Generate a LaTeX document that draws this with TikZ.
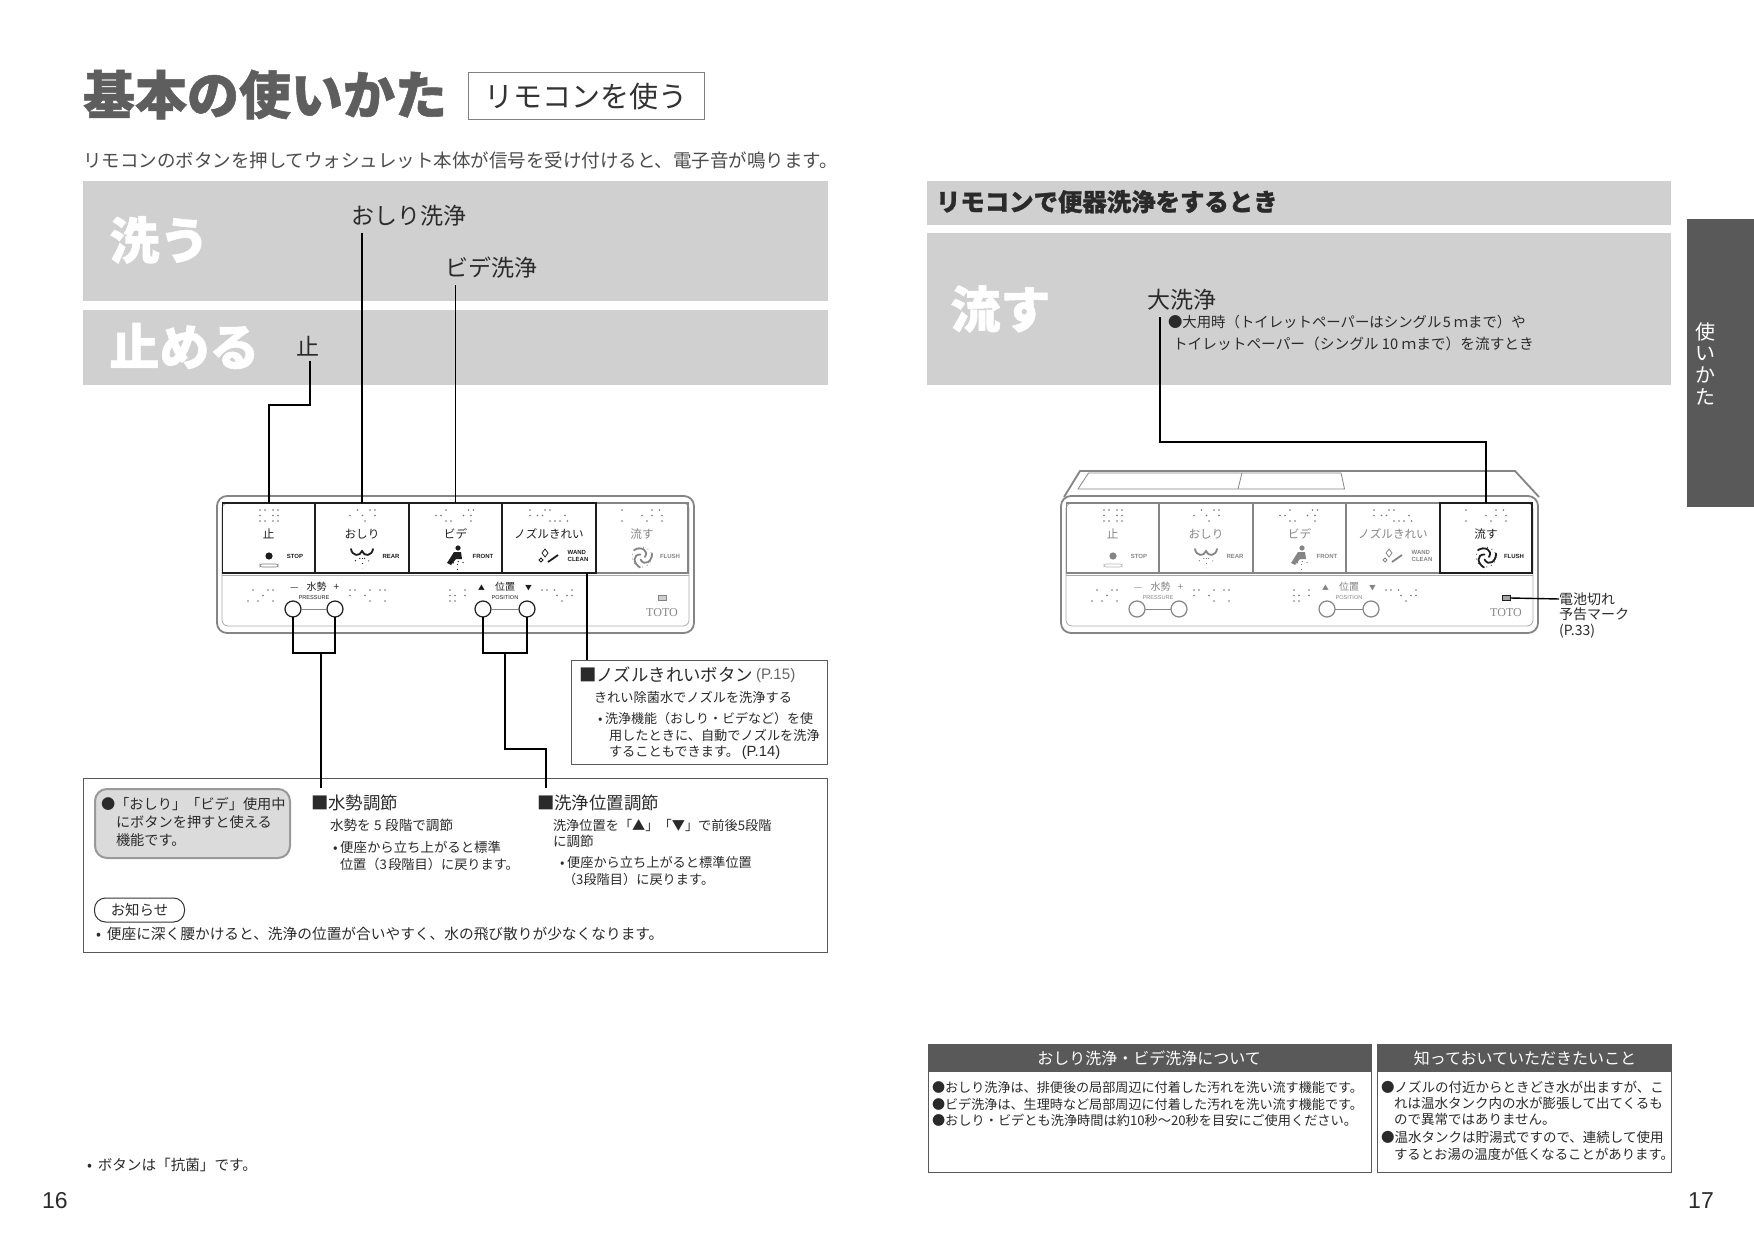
\documentclass[tikz,border=0pt]{standalone}
\usepackage{fontspec}
\setmainfont{Noto Sans CJK JP}[BoldFeatures={FakeBold=1}]
\newfontfamily\labelfont{Liberation Sans}
\newfontfamily\brandfont{Liberation Serif}
\definecolor{band-gray}{HTML}{D0D0D0}
\definecolor{head-gray}{HTML}{595959}
\definecolor{title-gray}{HTML}{5E5E5E}
\definecolor{body-ink}{HTML}{2A2A2A}
\definecolor{panel-on}{HTML}{1E1E1E}
\definecolor{panel-off}{HTML}{858585}
\tikzset{
    page-text/.style = {font=\fontsize{#1}{#1}\selectfont, text=body-ink, inner sep=0pt, outer sep=0pt, anchor=west, text height=#1*0.88pt, text depth=#1*0.06pt},
    band-title/.style = {font=\fontsize{25}{25}\selectfont\bfseries, text=white, inner sep=0pt, anchor=west},
    link-line/.style = {draw=black, line width=0.9pt},
    frame-line/.style = {draw=black!65, line width=0.45pt},
    panel-button/.style = {rectangle, anchor=north west, inner sep=0pt, outer sep=0pt, line width=0.6pt, minimum height=35pt},
    button-title/.style = {font=\fontsize{5.8}{5.8}\selectfont, inner sep=0pt},
    button-tag/.style = {font=\labelfont\fontsize{3}{3.6}\selectfont\bfseries, inner sep=0pt, align=left},
    row-title/.style = {font=\fontsize{5}{5}\selectfont, inner sep=0pt},
    row-tag/.style = {font=\labelfont\fontsize{2.8}{3}\selectfont, inner sep=0pt},
    knob/.style = {circle, fill=white, inner sep=0pt, outer sep=0pt, minimum size=8pt, line width=0.6pt},
    braille-dot/.style = {fill=black!55},
}
\newcommand{\tinymark}[1]{{\fontsize{3.4}{3.4}\selectfont #1}}
% one run of braille dots, column pitch 5px, row pitch 5.5px
\newcommand{\brailledots}[3]{\foreach \c/\r in {#3} \fill[braille-dot] (#1+\c*5,#2+\r*5.5) circle (0.9);}
% the remote's control panel: prefix, x offset, ink of four buttons and lower row, ink of flush button
\newcommand{\remotepanel}[4]{%
\begin{scope}[shift={(#2,0)}]
\draw[panel-off, line width=0.9pt, fill=white, rounded corners=5pt] (217,496) rectangle (694,633);
\draw[panel-off!70, line width=0.4pt, rounded corners=3pt] (222,503) rectangle (689,626);
\draw[panel-off!70, line width=0.4pt] (222,575) -- (689,575);
\node[panel-button, draw=#4, minimum width=46pt] (#1-flush) at (596,503) {};
\node[button-title, text=#4] (#1-flush-title) at (642,534) {流す};
\foreach \name/\bx/\bw/\title in {stop/222.5/92.5/止, rear/315/94/おしり, front/409/93/ビデ, nozzle/502/94/ノズルきれい}{
    \node[panel-button, draw=#3, minimum width=\bw*0.5pt] (#1-\name) at (\bx,503) {};
    \node[button-title, text=#3] (#1-\name-title) at (\bx+\bw/2,534) {\title};
}
% braille
\brailledots{260}{510}{0/0,1/0,2.6/0,3.6/0,0/1,2.6/1,3.6/1,0/2,1/2,2.6/2,3.6/2}
\brailledots{350}{510}{0/1,1.5/0,2.5/1,3/2,4/0,5/1,5/0}
\brailledots{436}{510}{0/1,1/1,2/0,2/2,3/2,5.5/1,6.5/0,7/1,7/2,7.5/0}
\brailledots{530}{510}{0/0,0/1,1.5/1,2.5/1,3/0,4/0,4/2,5/2,6/2,7/1,7.5/2}
\brailledots{622}{510}{0/0,0/2,4/1,5/2,6/0,6/1,7.5/0,8/1,8/2}
\brailledots{248}{590}{1/0,2/2,0/2,4/0,5/0,3/1,5/2}
\brailledots{350}{590}{0/0,1/0,0/1,3/1,4/0,4/2,6/0,7/0,7/2}
\brailledots{450}{590}{0/0,0/1,1/1,1/2,0/2,3/0,3/1}
\brailledots{542}{590}{0/0,1/0,2.5/0,3/1,4/2,5/1,6/1,6/0}
% icons
\fill[#3] (269,556) circle (3.6);
\draw[#3!60!white, line width=0.3pt, rounded corners=1pt] (260,564) rectangle (278,567);
\draw[#3, line width=0.9pt, line cap=round] (351,549) .. controls (352,556) and (360,557) .. (362,551) .. controls (364,557) and (372,556) .. (373,549);
\draw[#3, line width=0.5pt, dotted] (355,561) .. controls (358,557) and (366,557) .. (369,561);
\draw[#3, line width=0.5pt, dotted] (362,558) -- (362,568);
\fill[#3] (458,548) circle (2.6);
\fill[#3] (454,552) -- (461,552) -- (462,559) -- (456,559) -- (451,565) -- (447,563) -- cycle;
\draw[#3, line width=0.5pt, dotted] (453,563) .. controls (456,561) and (461,561) .. (464,563);
\draw[#3, line width=0.5pt, dotted] (457,564) -- (457,570);
\draw[#3, line width=0.9pt] (548,562) -- (558,555);
\draw[#3, line width=0.4pt] (545,549) -- (548,553) -- (545,557) -- (542,553) -- cycle;
\draw[#3, line width=0.4pt] (541,558) -- (543,560) -- (541,562) -- (539,560) -- cycle;
\foreach \a in {0,120,240}
    \draw[#4, line width=0.9pt, line cap=round, rotate around={\a:(642,557)}] (645,557) .. controls (649,550) and (641,546) .. (634,550);
\draw[#4, line width=0.4pt, dotted] (642,557) circle (10);
% small labels
\node[button-tag, text=#3] (#1-stop-tag) at (295,556) {STOP};
\node[button-tag, text=#3] (#1-rear-tag) at (391,556) {REAR};
\node[button-tag, text=#3] (#1-front-tag) at (483,556) {FRONT};
\node[button-tag, text=#3] (#1-nozzle-tag) at (578,556) {WAND\\CLEAN};
\node[button-tag, text=#4] (#1-flush-tag) at (670,556) {FLUSH};
% lower row
\node[row-title, text=#3] (#1-pressure-title) at (314,587) {$-$\hspace{0.7em}水勢\hspace{0.7em}+};
\node[row-tag, text=#3] (#1-pressure-tag) at (314,598) {PRESSURE};
\node[row-title, text=#3] (#1-position-title) at (505,587) {\tinymark{▲}\hspace{1em}位置\hspace{1em}\tinymark{▼}};
\node[row-tag, text=#3] (#1-position-tag) at (505,598) {POSITION};
\node[knob, draw=#3] (#1-minus) at (293,609) {};
\node[knob, draw=#3] (#1-plus) at (335,609) {};
\node[knob, draw=#3] (#1-front-knob) at (483,609) {};
\node[knob, draw=#3] (#1-back-knob) at (527,609) {};
\draw[panel-off, line width=0.4pt] (#1-minus) -- (#1-plus);
\draw[panel-off, line width=0.4pt] (#1-front-knob) -- (#1-back-knob);
\node[rectangle, draw=#4, fill=#4!40!white, line width=0.4pt, inner sep=0pt, minimum width=4pt, minimum height=2.4pt] (#1-battery) at (662,598) {};
\node[font=\brandfont\fontsize{6}{6}\selectfont, text=panel-off, inner sep=0pt] (#1-brand) at (662,613) {TOTO};
\end{scope}
}

\begin{document}
\begin{tikzpicture}[x=0.5pt, y=-0.5pt]
\useasboundingbox (0,0) rectangle (1754,1240);
\fill[white] (0,0) rectangle (1754,1240);

% left page
\node[page-text=26, font=\fontsize{26}{26}\selectfont\bfseries, text=title-gray] (page-title) at (83,93) {基本の使いかた};
\node[page-text=14.5, text=black!80, draw=black!50, line width=0.5pt, anchor=center, minimum width=118pt, minimum height=23.5pt, text height=12.3pt, text depth=0.9pt] (title-tag) at (586,96.5) {リモコンを使う};
\node[page-text=9.25, text=black!70] (lead-line) at (83,160) {リモコンのボタンを押してウォシュレット本体が信号を受け付けると、電子音が鳴ります。};

\fill[band-gray] (83,181) rectangle (828,301);
\fill[band-gray] (83,310) rectangle (828,385);
\node[band-title] (wash-title) at (109,240) {洗う};
\node[band-title] (stop-title) at (109,346) {止める};
\node[page-text=11.5] (rear-label) at (351,215) {おしり洗浄};
\node[page-text=11.5] (front-label) at (445,267) {ビデ洗浄};
\node[page-text=11.5] (stop-label) at (296,346) {止};

\remotepanel{left}{0}{panel-on}{panel-off}

\coordinate (stop-bend) at (310,405);
\draw[link-line, shorten <=2pt] (stop-label.south -| stop-bend) -- (stop-bend) -| (left-stop.north);
\draw[link-line, shorten <=3.5pt] (rear-label.south -| left-rear.north) -- (left-rear.north);
\draw[link-line, shorten <=3.5pt] (front-label.south -| left-front.north) -- (left-front.north);

% adjust buttons
\coordinate (pressure-joint) at (321,653);
\coordinate (pressure-end) at (321,788);
\draw[link-line] (left-minus.south) |- (pressure-joint);
\draw[link-line] (left-plus.south) |- (pressure-joint);
\coordinate (position-joint) at (505,653);
\coordinate (position-bend) at (546,749);
\coordinate (position-end) at (546,788);
\draw[link-line] (left-front-knob.south) |- (position-joint);
\draw[link-line] (left-back-knob.south) |- (position-joint);

% nozzle note
\node[draw=black!65, line width=0.45pt, fill=white, rectangle, anchor=north west, inner sep=0pt, minimum width=128pt, minimum height=52pt] (nozzle-box) at (571,660) {};
\coordinate (nozzle-start) at (587,573);
\draw[link-line] (nozzle-start) -- (nozzle-start |- nozzle-box.north);
\node[page-text=8.7] (nozzle-head) at (579,674) {■ノズルきれいボタン};
\node[page-text=6.5, font=\labelfont\fontsize{7.6}{7.6}\selectfont, text=black!60] (nozzle-page) at (nozzle-head.east) [anchor=west, xshift=1.5pt] {(P.15)};
\node[page-text=6.6] (nozzle-a) at (594,697) {きれい除菌水でノズルを洗浄する};
\node[page-text=6.5] (nozzle-b) at (598,718) {•\hspace{0.2em}洗浄機能（おしり・ビデなど）を使};
\node[page-text=6.6] (nozzle-c) at (609,735) {用したときに、自動でノズルを洗浄};
\node[page-text=6.6] (nozzle-d) at (609,751) {することもできます。\hspace{0.2em}{\labelfont\fontsize{7.4}{7.4}\selectfont (P.14)}};

% lower frame
\draw[frame-line] (83,778) rectangle (827,952);
\draw[link-line] (pressure-joint) -- (pressure-end);
\draw[link-line] (position-joint) |- (position-bend) -- (position-end);
\node[draw=black!40, line width=1pt, fill=black!14, rounded corners=6pt, rectangle, anchor=north west, inner sep=0pt, minimum width=97.5pt, minimum height=34.5pt] (hint-box) at (94,788) {};
\node[page-text=7.1] (hint-a) at (101,804) {●「おしり」「ビデ」使用中};
\node[page-text=7.1] (hint-b) at (116,822) {にボタンを押すと使える};
\node[page-text=7.1] (hint-c) at (116,840) {機能です。};
\node[page-text=8.7] (pressure-head) at (311,802) {■水勢調節};
\node[page-text=6.8] (pressure-a) at (330,825) {水勢を\hspace{0.25em}5\hspace{0.25em}段階で調節};
\node[page-text=6.7] (pressure-b) at (333,847) {•\hspace{0.2em}便座から立ち上がると標準};
\node[page-text=6.6] (pressure-c) at (340,864) {位置（3\hspace{0.1em}段階目）に戻ります。};
\node[page-text=8.7] (position-head) at (537,802) {■洗浄位置調節};
\node[page-text=6.6] (position-a) at (553,825) {洗浄位置を「▲」「▼」で前後5段階};
\node[page-text=6.8] (position-b) at (553,841) {に調節};
\node[page-text=6.6] (position-c) at (560,862) {•\hspace{0.2em}便座から立ち上がると標準位置};
\node[page-text=6.6] (position-d) at (563,879) {（3段階目）に戻ります。};
\node[page-text=7.2, draw=black!80, line width=0.5pt, anchor=center, rounded corners=5.5pt, minimum width=45pt, minimum height=12pt] (notice-tag) at (139.5,910) {お知らせ};
\node[page-text=7.35] (notice-line) at (96,933) {•\hspace{0.4em}便座に深く腰かけると、洗浄の位置が合いやすく、水の飛び散りが少なくなります。};
\node[page-text=7.3] (footnote) at (87,1165) {•\hspace{0.4em}ボタンは「抗菌」です。};
\node[font=\labelfont\fontsize{11.5}{11.5}\selectfont, text=body-ink, inner sep=0pt] (page-left) at (55,1201) {16};

% right page
\fill[band-gray] (927,181) rectangle (1671,225);
\fill[band-gray] (927,233) rectangle (1671,385);
\node[page-text=12.2, font=\fontsize{12.2}{12.2}\selectfont\bfseries] (flush-head) at (936,201) {リモコンで便器洗浄をするとき};
\node[band-title] (flush-title) at (950,309) {流す};
\node[page-text=11.5] (flush-label) at (1147,299) {大洗浄};
\node[page-text=7.2] (flush-a) at (1168,322) {●大用時（トイレットペーパーはシングル\hspace{0.1em}5\hspace{0.2em}ｍまで）や};
\node[page-text=7.35] (flush-b) at (1173,343) {トイレットペーパー（シングル 10 ｍまで）を流すとき};

\draw[panel-off, line width=0.9pt] (1064,497) -- (1080,471) -- (1515,471) -- (1539,497);
\draw[panel-off, line width=0.4pt] (1078,489) -- (1088.5,473) -- (1341,473) -- (1344.5,489) -- cycle;
\draw[panel-off, line width=0.4pt] (1242,473) -- (1238,489);
\remotepanel{right}{844}{panel-off}{panel-on}
\draw[panel-on, line width=0.6pt] (right-flush.south west) rectangle (right-flush.north east);

\coordinate (flush-start) at (1160,317);
\coordinate (flush-bend) at (1160,442);
\draw[link-line] (flush-start) -- (flush-bend) -| (right-flush.north);
\node[page-text=7] (battery-a) at (1559,599) {電池切れ};
\node[page-text=7] (battery-b) at (1559,614) {予告マーク};
\node[page-text=7] (battery-c) at (1559,630) {(P.33)};
\draw[link-line, line width=0.7pt] (right-battery.east) -- (battery-a.west);

% tables
\draw[frame-line] (928,1044) rectangle (1371,1172);
\draw[frame-line] (1377,1044) rectangle (1671,1172);
\fill[head-gray] (928,1044) rectangle (1371,1072);
\fill[head-gray] (1377,1044) rectangle (1671,1072);
\node[page-text=8, text=white, anchor=center] (table-left-head) at (1149,1058) {おしり洗浄・ビデ洗浄について};
\node[page-text=8, text=white, anchor=center] (table-right-head) at (1525,1058) {知っておいていただきたいこと};
\node[page-text=6.55] (table-a) at (932,1087) {●おしり洗浄は、排便後の局部周辺に付着した汚れを洗い流す機能です。};
\node[page-text=6.55] (table-b) at (932,1104) {●ビデ洗浄は、生理時など局部周辺に付着した汚れを洗い流す機能です。};
\node[page-text=6.6] (table-c) at (932,1120) {●おしり・ビデとも洗浄時間は約10秒～20秒を目安にご使用ください。};
\node[page-text=6.75] (table-d) at (1381,1087) {●ノズルの付近からときどき水が出ますが、こ};
\node[page-text=6.75] (table-e) at (1394,1103) {れは温水タンク内の水が膨張して出てくるも};
\node[page-text=6.75] (table-f) at (1394,1119) {ので異常ではありません。};
\node[page-text=6.75] (table-g) at (1381,1137) {●温水タンクは貯湯式ですので、連続して使用};
\node[page-text=6.7] (table-h) at (1394,1154) {するとお湯の温度が低くなることがあります。};
\node[font=\labelfont\fontsize{11.5}{11.5}\selectfont, text=body-ink, inner sep=0pt] (page-right) at (1701,1201) {17};

% side tab
\fill[head-gray] (1687,219) rectangle (1754,507);
\node[font=\fontsize{10}{10.8}\selectfont, text=white, inner sep=0pt, align=center, anchor=north] (side-tab) at (1705,322) {使\\い\\か\\た};
\end{tikzpicture}
\end{document}
